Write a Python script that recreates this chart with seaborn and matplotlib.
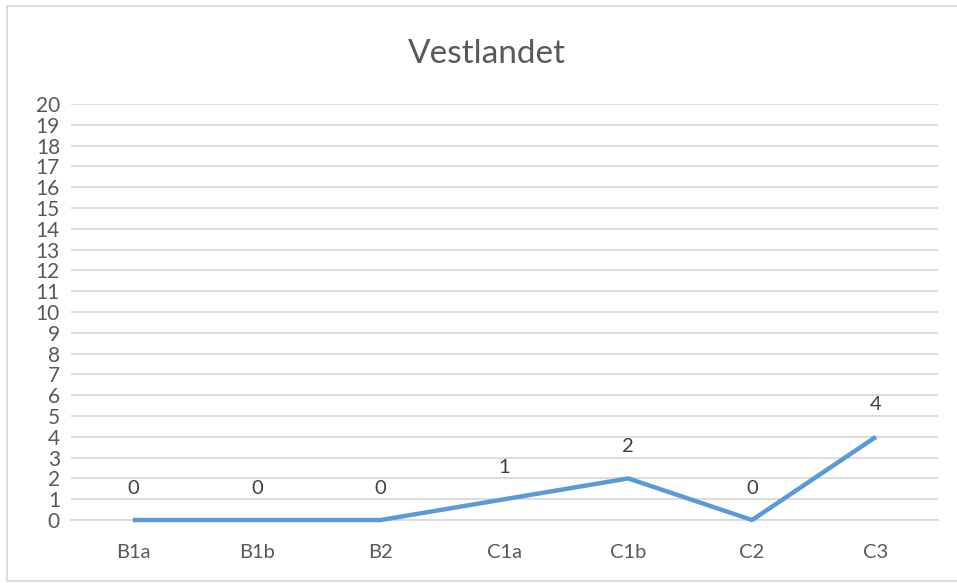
import pandas as pd
import matplotlib.pyplot as plt
import seaborn as sns
from matplotlib.patches import Rectangle

categories = ["B1a", "B1b", "B2", "C1a", "C1b", "C2", "C3"]
values = [0, 0, 0, 1, 2, 0, 4]
title = "Vestlandet"

df = pd.DataFrame({"kategori": categories, "antall": values})
df["pos"] = range(len(categories))

sns.set_style("white")
plt.rcParams['font.family'] = ['Lato', 'DejaVu Sans']

fig = plt.figure(figsize=(9.57, 5.83), dpi=100)
ax = fig.add_axes([0.0742, 0.108, 0.9058, 0.7136])

sns.lineplot(data=df, x="pos", y="antall", color="#5B9BD5", linewidth=3.2,
             ax=ax, solid_capstyle="butt", clip_on=False, zorder=5)

for x, y in zip(df["pos"], df["antall"]):
    ax.annotate(str(y), (x, y), xytext=(0, 23), textcoords="offset points",
                ha="center", va="center", fontsize=14.5, color="#404040")

ax.set_xlim(-0.5, len(categories) - 0.5)
ax.set_ylim(0, 20)
ax.set_yticks(range(0, 21))
ax.set_xticks(df["pos"])
ax.set_xticklabels(categories)
ax.yaxis.grid(True, color="#D9D9D9", linewidth=1.3)
ax.set_axisbelow(True)
ax.tick_params(axis="y", length=0, pad=8, labelsize=15, labelcolor="#595959")
ax.tick_params(axis="x", length=0, pad=17, labelsize=14.5, labelcolor="#595959")
ax.set_xlabel("")
ax.set_ylabel("")
sns.despine(ax=ax, left=True, top=True, right=True)
ax.spines["bottom"].set_color("#D9D9D9")
ax.spines["bottom"].set_linewidth(1.3)

fig.text(0.509, 0.908, title, ha="center", va="center", fontsize=24, color="#595959")

fig.patches.append(Rectangle((7 / 957, 2 / 583), 1.0, 575 / 583, transform=fig.transFigure,
                             fill=False, edgecolor="#D9D9D9", linewidth=1.3))

fig.savefig("out.png", dpi=100)
